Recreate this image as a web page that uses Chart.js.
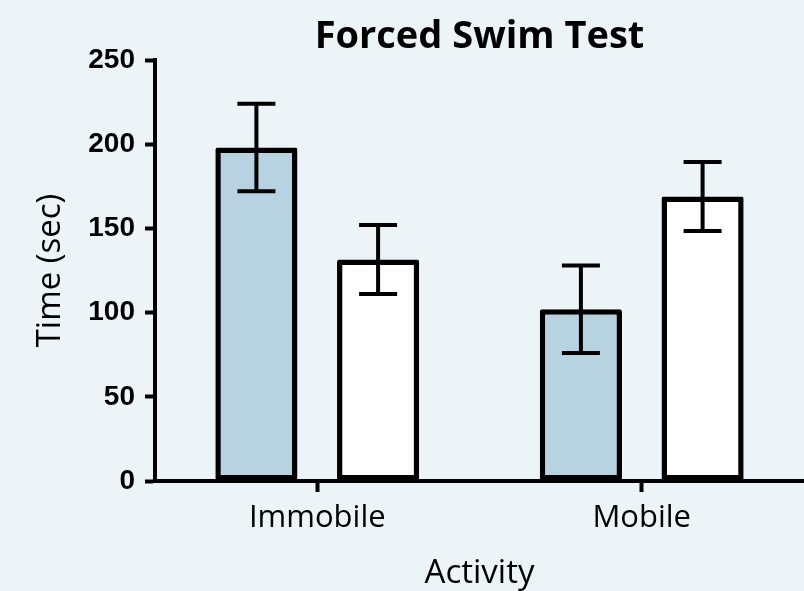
<!DOCTYPE html>
<html><head><meta charset="utf-8">
<script src="https://cdn.jsdelivr.net/npm/chart.js@4.4.0/dist/chart.umd.min.js"></script>
<style>html,body{margin:0;padding:0;background:#EDF4F7;} canvas{display:block;}</style>
</head><body>
<canvas id="c" width="804" height="591"></canvas>
<script>
const categories = ['Immobile', 'Mobile'];
const seriesA = [198, 102];
const seriesAErr = [26, 26];
const seriesB = [131.5, 169];
const seriesBErr = [20.5, 20.5];
const yTicks = [0, 50, 100, 150, 200, 250];

const bgPlugin = {
  id: 'bg',
  beforeDraw(chart) {
    const ctx = chart.ctx;
    ctx.save();
    ctx.fillStyle = '#EDF4F7';
    ctx.fillRect(0, 0, chart.width, chart.height);
    ctx.restore();
  }
};

const errorBars = {
  id: 'errorBars',
  afterDatasetsDraw(chart) {
    const ctx = chart.ctx, y = chart.scales.y;
    chart.data.datasets.forEach((ds, i) => {
      const meta = chart.getDatasetMeta(i);
      meta.data.forEach((el, j) => {
        const v = ds.data[j], e = ds.errors[j];
        const yt = y.getPixelForValue(v + e), yb = y.getPixelForValue(v - e);
        const x = el.x, hw = 19;
        ctx.save();
        ctx.strokeStyle = '#000';
        ctx.lineWidth = 4;
        ctx.lineCap = 'butt';
        ctx.beginPath();
        ctx.moveTo(x, yt); ctx.lineTo(x, yb);
        ctx.moveTo(x - hw, yt); ctx.lineTo(x + hw, yt);
        ctx.moveTo(x - hw, yb); ctx.lineTo(x + hw, yb);
        ctx.stroke();
        ctx.restore();
      });
    });
  }
};

new Chart(document.getElementById('c'), {
  type: 'bar',
  data: {
    labels: categories,
    datasets: [
      { data: seriesA, errors: seriesAErr, backgroundColor: '#B7D2E0', borderColor: '#000', borderWidth: 5.5, borderSkipped: false, borderRadius: 2 },
      { data: seriesB, errors: seriesBErr, backgroundColor: '#FFFFFF', borderColor: '#000', borderWidth: 5.5, borderSkipped: false, borderRadius: 2 }
    ]
  },
  options: {
    responsive: false,
    animation: false,
    devicePixelRatio: 1,
    layout: { padding: 0 },
    categoryPercentage: 0.75,
    barPercentage: 0.675,
    plugins: {
      legend: { display: false },
      tooltip: { enabled: false },
      title: {
        display: true,
        text: 'Forced Swim Test',
        fullSize: false,
        color: '#000',
        font: { family: 'Open Sans', weight: 'bold', size: 38, lineHeight: 1.2 },
        padding: { top: 14.4, bottom: 0 }
      }
    },
    scales: {
      x: {
        offset: true,
        afterFit(s) { s.height = 110; },
        grid: { display: true, offset: false, drawOnChartArea: false, drawTicks: true, tickLength: 11, tickColor: '#000', tickWidth: 4 },
        border: { display: true, color: '#000', width: 4 },
        ticks: { color: '#000', padding: 8, font: { family: 'Open Sans', size: 31, lineHeight: 1.2 } },
        title: { display: true, text: 'Activity', color: '#000', font: { family: 'Open Sans', size: 33, lineHeight: 1 }, padding: { top: 0, bottom: 0.5 } }
      },
      y: {
        min: 0, max: 250,
        afterFit(s) { s.width = 155; },
        afterBuildTicks(s) { s.ticks = yTicks.map(v => ({ value: v })); },
        grid: { display: true, drawOnChartArea: false, drawTicks: true, tickLength: 10, tickColor: '#000', tickWidth: 4 },
        border: { display: true, color: '#000', width: 4 },
        ticks: { color: '#000', padding: 10, font: { family: 'Liberation Sans', weight: 'bold', size: 28 } },
        title: { display: true, text: 'Time (sec)', color: '#000', font: { family: 'Open Sans', size: 33, lineHeight: 1.2 }, padding: { top: 30.7, bottom: 0 } }
      }
    }
  },
  plugins: [bgPlugin, errorBars]
});
</script>
</body></html>
